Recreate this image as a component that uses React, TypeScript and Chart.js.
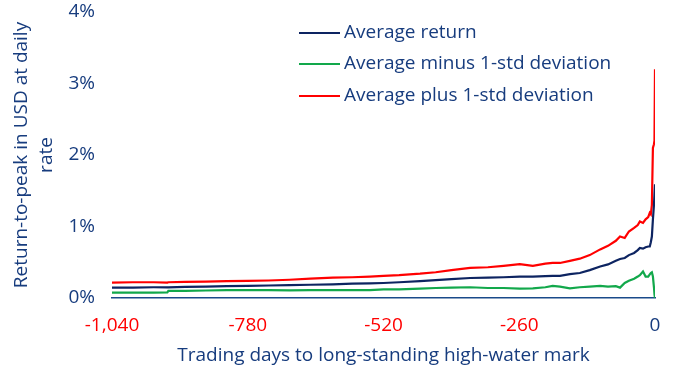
import React, { useEffect, useRef } from "react";
import { Chart, registerables } from "chart.js";

Chart.register(...registerables);

const days = [-1040, -1000, -960, -934, -932, -900, -860, -820, -780, -740, -700, -660, -617, -580, -546, -520, -490, -450, -420, -390, -354, -320, -290, -259, -234, -210, -196, -182, -163, -144, -125, -105, -90, -75, -67, -58, -50, -40, -33, -29, -23, -18, -13, -10, -8, -6, -4, -2, -1, 0];

const averageReturn = [0.145, 0.145, 0.15, 0.15, 0.15, 0.155, 0.16, 0.165, 0.17, 0.175, 0.18, 0.185, 0.19, 0.2, 0.205, 0.21, 0.22, 0.235, 0.25, 0.265, 0.28, 0.285, 0.29, 0.3, 0.3, 0.305, 0.31, 0.31, 0.335, 0.35, 0.39, 0.44, 0.47, 0.52, 0.545, 0.56, 0.6, 0.63, 0.67, 0.7, 0.69, 0.71, 0.72, 0.72, 0.78, 0.86, 1.1, 1.3, 1.45, 1.59];

const averageMinusStd = [0.075, 0.075, 0.075, 0.078, 0.1, 0.1, 0.105, 0.11, 0.11, 0.11, 0.108, 0.11, 0.11, 0.11, 0.11, 0.12, 0.12, 0.13, 0.14, 0.145, 0.15, 0.14, 0.14, 0.13, 0.135, 0.15, 0.17, 0.16, 0.135, 0.15, 0.16, 0.17, 0.16, 0.165, 0.145, 0.21, 0.24, 0.27, 0.3, 0.32, 0.37, 0.3, 0.3, 0.33, 0.35, 0.36, 0.3, 0.15, 0.05, 0.0];

const averagePlusStd = [0.215, 0.22, 0.22, 0.215, 0.22, 0.225, 0.23, 0.235, 0.24, 0.245, 0.255, 0.27, 0.285, 0.29, 0.3, 0.31, 0.32, 0.34, 0.36, 0.39, 0.42, 0.43, 0.45, 0.475, 0.45, 0.48, 0.49, 0.49, 0.52, 0.55, 0.6, 0.68, 0.73, 0.8, 0.86, 0.84, 0.93, 0.98, 1.02, 1.07, 1.05, 1.1, 1.13, 1.19, 1.17, 1.3, 2.1, 2.15, 2.2, 3.2];

const seriesLabels = ["Average return", "Average minus 1-std deviation", "Average plus 1-std deviation"];
const xTicks = [-1040, -780, -520, -260, 0];
const yTicks = [0, 1, 2, 3, 4];

const NAVY = "#0d2461";
const TEXT = "#173c7e";
const GREEN = "#12a84b";
const RED = "#ff0000";
const FONT = "'Open Sans', sans-serif";

const toPoints = (vals: number[]) => days.map((d, i) => ({ x: d, y: vals[i] }));

const legendPlugin = {
  id: "customLegend",
  afterDraw(chart: any) {
    const ctx = chart.ctx;
    const rows = [33, 64, 96];
    ctx.save();
    chart.data.datasets.forEach((ds: any, i: number) => {
      const y = rows[i];
      ctx.strokeStyle = ds.borderColor;
      ctx.lineWidth = 2;
      ctx.beginPath();
      ctx.moveTo(299, y);
      ctx.lineTo(340, y);
      ctx.stroke();
      ctx.fillStyle = TEXT;
      ctx.font = `19px ${FONT}`;
      ctx.textBaseline = "middle";
      ctx.textAlign = "left";
      ctx.fillText(ds.label, 344, y);
    });
    ctx.restore();
  },
};

export default function App() {
  const ref = useRef<HTMLCanvasElement>(null);
  useEffect(() => {
    if (!ref.current) return;
    const chart = new Chart(ref.current, {
      type: "line",
      data: {
        datasets: [
          { label: seriesLabels[0], data: toPoints(averageReturn), borderColor: NAVY, backgroundColor: NAVY, borderWidth: 2.2, pointRadius: 0, tension: 0 },
          { label: seriesLabels[1], data: toPoints(averageMinusStd), borderColor: GREEN, backgroundColor: GREEN, borderWidth: 2.2, pointRadius: 0, tension: 0 },
          { label: seriesLabels[2], data: toPoints(averagePlusStd), borderColor: RED, backgroundColor: RED, borderWidth: 2.2, pointRadius: 0, tension: 0 },
        ],
      },
      options: {
        responsive: false,
        animation: false,
        devicePixelRatio: 1,
        layout: { padding: { top: 12, right: 36, left: 0, bottom: 0 } },
        plugins: { legend: { display: false }, tooltip: { enabled: false } },
        scales: {
          x: {
            type: "linear",
            min: -1040,
            max: 0,
            grid: { display: false, drawTicks: false },
            border: { display: true, color: "#1a4a8a", width: 1.5 },
            afterBuildTicks: (axis: any) => {
              axis.ticks = xTicks.map((v) => ({ value: v }));
            },
            afterFit: (axis: any) => {
              axis.height = 69;
            },
            ticks: {
              color: (c: any) => (c.tick && c.tick.value === 0 ? TEXT : RED),
              font: { family: FONT, size: 19 },
              padding: 16,
              maxRotation: 0,
              autoSkip: false,
              callback: (v: any) => Number(v).toLocaleString("en-US"),
            },
            title: {
              display: true,
              text: "Trading days to long-standing high-water mark",
              color: TEXT,
              font: { family: FONT, size: 19 },
              padding: { top: 0, bottom: 0 },
            },
          },
          y: {
            min: 0,
            max: 4,
            grid: { display: false, drawTicks: false },
            border: { display: false },
            afterBuildTicks: (axis: any) => {
              axis.ticks = yTicks.map((v) => ({ value: v }));
            },
            afterFit: (axis: any) => {
              axis.width = 112;
              axis.paddingTop = 0;
              axis.paddingBottom = 0;
            },
            ticks: {
              color: TEXT,
              font: { family: FONT, size: 19 },
              padding: 17,
              callback: (v: any) => v + "%",
            },
            title: {
              display: true,
              text: ["Return-to-peak in USD at daily", "rate"],
              color: TEXT,
              font: { family: FONT, size: 19, lineHeight: 1.32 },
              padding: { top: 9, bottom: 0 },
            },
          },
        },
      },
      plugins: [legendPlugin],
    });
    return () => chart.destroy();
  }, []);
  return (
    <div style={{ position: "fixed", left: 0, top: 0, width: 691, height: 367, background: "#fff" }}>
      <canvas ref={ref} width={691} height={367} style={{ width: 691, height: 367, display: "block" }} />
    </div>
  );
}
